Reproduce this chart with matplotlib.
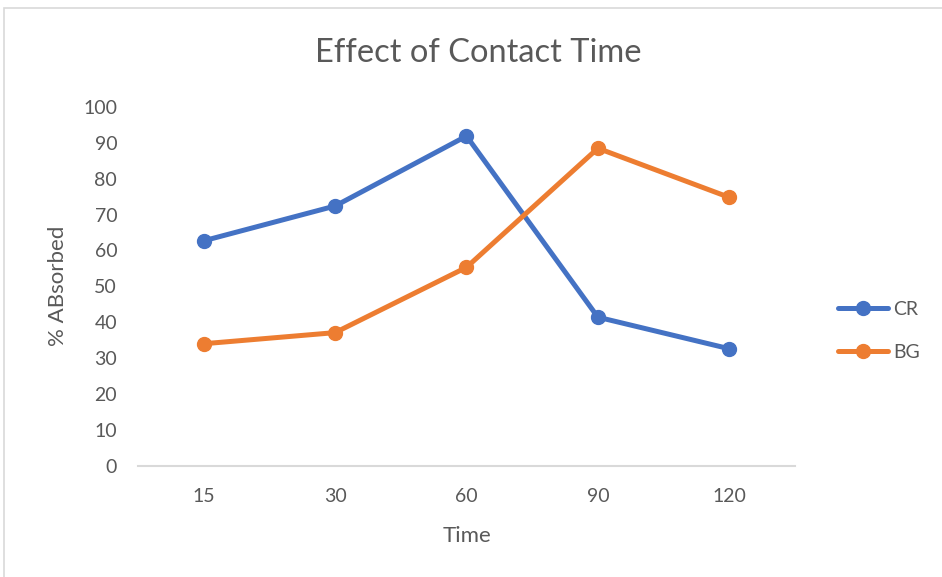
import matplotlib.pyplot as plt
from matplotlib.patches import Rectangle

times = ["15", "30", "60", "90", "120"]
cr = [62.7, 72.4, 91.9, 41.4, 32.6]
bg = [34.0, 37.1, 55.3, 88.5, 74.8]

plt.rcParams['font.family'] = ['Lato', 'DejaVu Sans']
txt = '#595959'

fig = plt.figure(figsize=(9.42, 5.77), dpi=100)
ax = fig.add_axes([138/942, 1 - 465.7/577, (795-138)/942, (465.7-107)/577])

x = range(len(times))
ax.plot(x, cr, color='#4472C4', lw=3.6, marker='o', ms=10, label='CR', solid_capstyle='round')
ax.plot(x, bg, color='#ED7D31', lw=3.6, marker='o', ms=10, label='BG', solid_capstyle='round')

ax.set_xlim(-0.5, 4.5)
ax.set_ylim(0, 100)
ax.set_yticks(range(0, 101, 10))
ax.set_xticks(list(x))
ax.set_xticklabels(times)
ax.tick_params(axis='both', length=0, labelsize=14, labelcolor=txt)
ax.tick_params(axis='y', pad=15)
ax.tick_params(axis='x', pad=16)
for s in ['top', 'right', 'left']:
    ax.spines[s].set_visible(False)
ax.spines['bottom'].set_color('#D9D9D9')
ax.spines['bottom'].set_linewidth(1.5)
ax.set_clip_on(False)

fig.text(478/942, 1 - 53/577, 'Effect of Contact Time', ha='center', va='center', fontsize=23.5, color=txt)
fig.text(467/942, 1 - 536/577, 'Time', ha='center', va='center', fontsize=16, color=txt)
fig.text(58/942, 1 - 286/577, '% ABsorbed', ha='center', va='center', rotation=90, fontsize=16, color=txt)

leg = fig.legend(loc='center left', bbox_to_anchor=(820/942, 1 - 331/577), frameon=False,
                 fontsize=14, handlelength=2.6, handletextpad=0.25, labelspacing=1.35)
for t in leg.get_texts():
    t.set_color(txt)

fig.patches.append(Rectangle((4/942, -0.1), 1.2, 1 - 8/577 + 0.1, transform=fig.transFigure,
                             fill=False, edgecolor='#D9D9D9', lw=1.2))

fig.savefig('out.png', dpi=100)
